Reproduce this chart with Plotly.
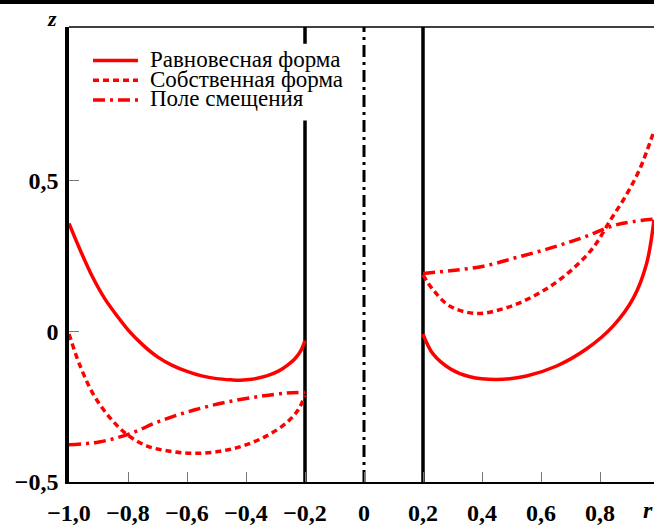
import plotly.graph_objects as go

# ---------------- data ----------------
eq_left_r = [-1.0, -0.96, -0.92, -0.88, -0.84, -0.8, -0.75, -0.7, -0.65, -0.6, -0.55, -0.5, -0.45,
             -0.42, -0.38, -0.33, -0.29, -0.26, -0.235, -0.215, -0.2]
eq_left_z = [0.358, 0.265, 0.18, 0.11, 0.055, 0.005, -0.045, -0.085, -0.113, -0.133, -0.148, -0.157, -0.161,
             -0.162, -0.159, -0.148, -0.132, -0.113, -0.092, -0.066, -0.031]
eq_right_r = [0.2, 0.234, 0.292, 0.359, 0.45, 0.551, 0.653, 0.755, 0.845, 0.913, 0.958, 0.983]
eq_right_z = [-0.009, -0.075, -0.124, -0.151, -0.16, -0.148, -0.115, -0.058, 0.018, 0.11, 0.225, 0.37]

eig_left_r = [-1.0, -0.963, -0.917, -0.861, -0.805, -0.737, -0.658, -0.579, -0.488, -0.409, -0.33, -0.262, -0.223, -0.2]
eig_left_z = [-0.009, -0.113, -0.21, -0.287, -0.341, -0.38, -0.398, -0.405, -0.398, -0.38, -0.347, -0.303, -0.26, -0.213]
eig_right_r = [0.2, 0.234, 0.292, 0.382, 0.472, 0.551, 0.631, 0.71, 0.778, 0.834, 0.89, 0.936, 0.983]
eig_right_z = [0.187, 0.138, 0.083, 0.059, 0.075, 0.105, 0.149, 0.209, 0.279, 0.367, 0.454, 0.541, 0.665]

disp_left_r = [-1.0, -0.898, -0.797, -0.692, -0.579, -0.466, -0.353, -0.262, -0.2]
disp_left_z = [-0.376, -0.367, -0.341, -0.298, -0.262, -0.235, -0.216, -0.205, -0.203]
disp_right_r = [0.2, 0.292, 0.405, 0.517, 0.631, 0.744, 0.857, 0.983]
disp_right_z = [0.192, 0.201, 0.216, 0.245, 0.276, 0.312, 0.354, 0.372]

series_names = ["Равновесная форма", "Собственная форма", "Поле смещения"]
wall_r = [-0.2, 0.2]
axis_r = 0.0

x_tickvals = [-1.0, -0.8, -0.6, -0.4, -0.2, 0.0, 0.2, 0.4, 0.6, 0.8]
x_ticktext = ["−1,0", "−0,8", "−0,6", "−0,4", "−0,2", "0", "0,2", "0,4", "0,6", "0,8"]
y_tickvals = [-0.5, 0.0, 0.5]
y_ticktext = ["−0,5", "0", "0,5"]

# ---------------- styling ----------------
RED = "#ff0000"
dashes = ["solid", "6px,4px", "12px,5px,3px,5px"]
LW = 3.5
W, H = 654, 526
ML, MR, MT, MB = 69, 0, 27, 37
PW, PH = W - ML - MR, H - MT - MB
SERIF = "Liberation Serif, Times New Roman, serif"


def px2paper(px, py):
    return (px - ML) / PW, (H - MB - py) / PH


fig = go.Figure()
data_sets = [
    (eq_left_r, eq_left_z, eq_right_r, eq_right_z),
    (eig_left_r, eig_left_z, eig_right_r, eig_right_z),
    (disp_left_r, disp_left_z, disp_right_r, disp_right_z),
]
for name, dash, (lr, lz, rr, rz) in zip(series_names, dashes, data_sets):
    fig.add_trace(go.Scatter(
        x=lr + [None] + rr, y=lz + [None] + rz, mode="lines", name=name,
        line=dict(color=RED, width=LW, dash=dash, shape="spline", smoothing=1.0),
        showlegend=False, connectgaps=False, hoverinfo="skip"))

shapes = []
for wr in wall_r:
    shapes.append(dict(type="line", xref="x", yref="paper", x0=wr, x1=wr, y0=0, y1=1,
                       line=dict(color="black", width=3.5), layer="below"))
shapes.append(dict(type="line", xref="x", yref="paper", x0=axis_r, x1=axis_r, y0=0, y1=1,
                   line=dict(color="black", width=3, dash="12px,5px,3px,5px"), layer="below"))
# top frame lines
shapes.append(dict(type="line", xref="paper", yref="paper", x0=0, x1=1, y0=1, y1=1,
                   line=dict(color="black", width=1.5), layer="above"))
tx0, _ = px2paper(0, 0)
_, ty = px2paper(0, 1.5)
shapes.append(dict(type="line", xref="paper", yref="paper", x0=tx0, x1=1, y0=ty, y1=ty,
                   line=dict(color="black", width=4), layer="above"))
# legend background
bx0, by1 = px2paper(82, 44)
bx1, by0 = px2paper(354, 122)
shapes.append(dict(type="rect", xref="paper", yref="paper", x0=bx0, x1=bx1, y0=by0, y1=by1,
                   fillcolor="white", line=dict(width=0), layer="above"))

annotations = []
rows_py = [61, 81, 101]
for name, dash, py in zip(series_names, dashes, rows_py):
    lx0, ly = px2paper(93, py)
    lx1, _ = px2paper(138, py)
    shapes.append(dict(type="line", xref="paper", yref="paper", x0=lx0, x1=lx1, y0=ly, y1=ly,
                       line=dict(color=RED, width=LW, dash=dash), layer="above"))
    tx, tyy = px2paper(148, py - 1)
    annotations.append(dict(xref="paper", yref="paper", x=tx, y=tyy, text=name, showarrow=False,
                            xanchor="left", yanchor="middle",
                            font=dict(family=SERIF, size=23, color="black")))

zx, zy = px2paper(52, 18)
annotations.append(dict(xref="paper", yref="paper", x=zx, y=zy, text="<b><i>z</i></b>", showarrow=False,
                        xanchor="center", yanchor="middle",
                        font=dict(family=SERIF, size=22, color="black")))
rx, ry = px2paper(648, 517)
annotations.append(dict(xref="paper", yref="paper", x=rx, y=ry, text="<b><i>r</i></b>", showarrow=False,
                        xanchor="center", yanchor="middle",
                        font=dict(family=SERIF, size=24, color="black")))

tickfont = dict(family=SERIF, size=24, color="black", weight="bold")
fig.update_layout(
    width=W, height=H,
    margin=dict(l=ML, r=MR, t=MT, b=MB, pad=0),
    paper_bgcolor="white", plot_bgcolor="white",
    showlegend=False,
    shapes=shapes, annotations=annotations,
    xaxis=dict(range=[-1.0, -1.0 + PW / 295.0], tickvals=x_tickvals, ticktext=x_ticktext,
               showgrid=False, zeroline=False, showline=True, linecolor="black", linewidth=2,
               ticks="inside", ticklen=10, tickwidth=1, tickcolor="#777",
               tickfont=tickfont, ticklabelstandoff=8),
    yaxis=dict(range=[-0.5, -0.5 + PH / 306.0], tickvals=y_tickvals, ticktext=y_ticktext,
               showgrid=False, zeroline=False, showline=True, linecolor="black", linewidth=3.5,
               ticks="inside", ticklen=10, tickwidth=1, tickcolor="#777",
               tickfont=tickfont, ticklabelstandoff=2),
)

fig.write_html("out.html")
